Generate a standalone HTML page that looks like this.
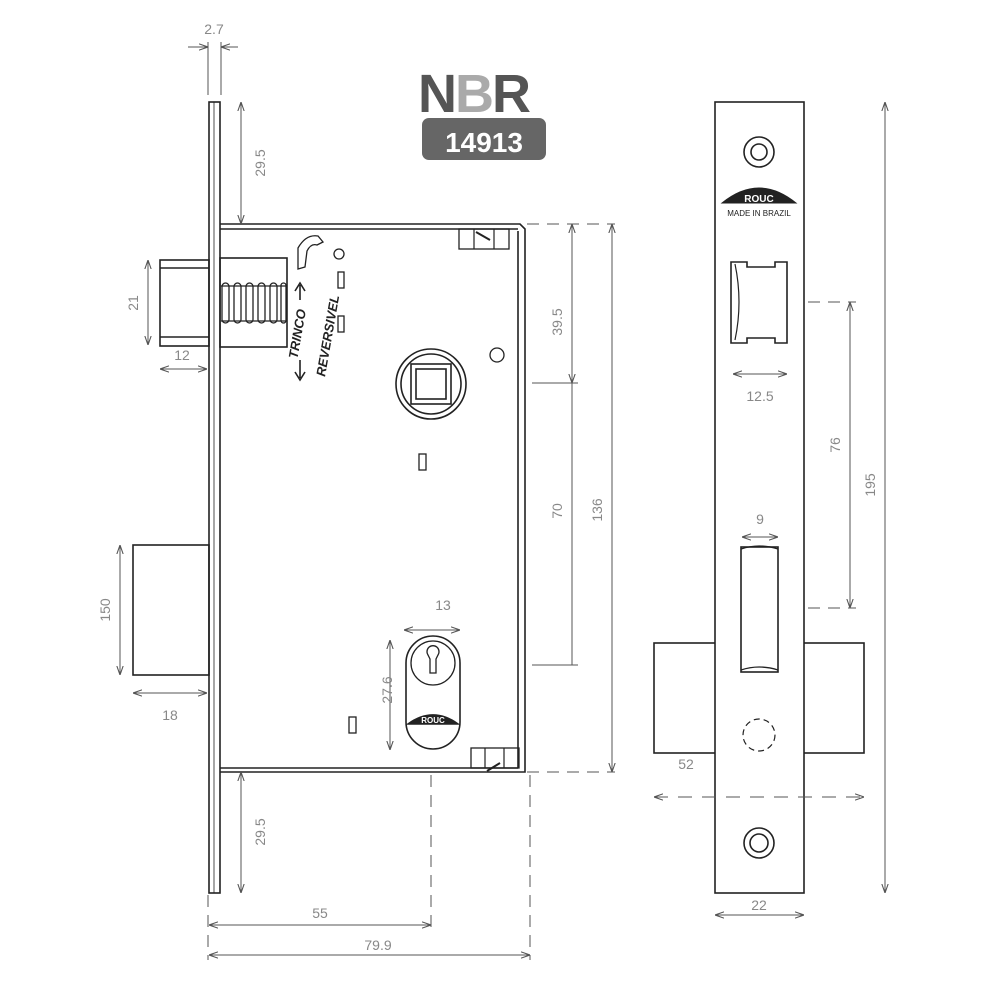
<!DOCTYPE html>
<html><head><meta charset="utf-8"><style>
html,body{margin:0;padding:0;background:#fff}
svg{display:block}
.t{font-family:"Liberation Sans",sans-serif;fill:#888;font-size:14px}
</style></head><body>
<svg width="1000" height="1000" viewBox="0 0 1000 1000" xmlns="http://www.w3.org/2000/svg">
<defs>
<marker id="a" viewBox="0 0 10 10" refX="10" refY="5" markerWidth="9" markerHeight="9" orient="auto-start-reverse"><path d="M0,1.5 L10,5 L0,8.5" fill="none" stroke="#555" stroke-width="1.2"/></marker>
</defs>
<g fill="none" stroke="#222" stroke-width="1.6">
<rect x="209" y="102" width="11" height="791"/>
<line x1="214" y1="102" x2="214" y2="893" stroke-width="0.8"/>
<path d="M220 224 H520 L525 229 V772 H220"/>
<line x1="220" y1="229" x2="518" y2="229"/>
<line x1="220" y1="768" x2="518" y2="768"/>
<line x1="518" y1="231" x2="518" y2="768"/>
<rect x="160" y="260" width="49" height="86"/>
<line x1="160" y1="268" x2="209" y2="268"/>
<line x1="160" y1="337" x2="209" y2="337"/>
<rect x="220" y="258" width="67" height="89"/>
<path d="M221 286 h66 M221 321 h66" stroke-width="1.2"/>
<g stroke-width="1.3">
<rect x="222" y="283" width="7" height="40" rx="3.5"/>
<rect x="234" y="283" width="7" height="40" rx="3.5"/>
<rect x="246" y="283" width="7" height="40" rx="3.5"/>
<rect x="258" y="283" width="7" height="40" rx="3.5"/>
<rect x="270" y="283" width="7" height="40" rx="3.5"/>
<rect x="281" y="283" width="5" height="40" rx="2.5"/>
</g>
<path d="M298 248 q8-14 20-12 l5 6 -6 3 q-6-2 -10 6 l-2 16 -7 2 z" stroke-width="1.3"/>
<circle cx="339" cy="254" r="5" stroke-width="1.3"/>
<rect x="338" y="272" width="6" height="16" stroke-width="1.3"/>
<rect x="338" y="316" width="6" height="16" stroke-width="1.3"/>
<circle cx="497" cy="355" r="7" stroke-width="1.3"/>
<circle cx="431" cy="384" r="35"/>
<circle cx="431" cy="384" r="30"/>
<rect x="411" y="364" width="40" height="40"/>
<rect x="416" y="369" width="30" height="30"/>
<rect x="419" y="454" width="7" height="16" stroke-width="1.3"/>
<rect x="349" y="717" width="7" height="16" stroke-width="1.3"/>
<rect x="459" y="229" width="50" height="20" stroke-width="1.3"/>
<line x1="474" y1="229" x2="474" y2="249" stroke-width="1.2"/><line x1="494" y1="229" x2="494" y2="249" stroke-width="1.2"/>
<line x1="476" y1="232" x2="490" y2="240" stroke-width="2"/>
<rect x="471" y="748" width="48" height="20" stroke-width="1.3"/>
<line x1="485" y1="748" x2="485" y2="768" stroke-width="1.2"/><line x1="504" y1="748" x2="504" y2="768" stroke-width="1.2"/>
<line x1="487" y1="771" x2="500" y2="763" stroke-width="2"/>
<path d="M406 663 A27 27 0 0 1 460 663 V722 A27 27 0 0 1 406 722 Z"/>
<circle cx="433" cy="663" r="22" stroke-width="1.3"/>
<path d="M428 655 a6 6 0 1 1 10 0 l-2 4 v14 h-6 v-14 z" stroke-width="1.3"/>
<path d="M408 724 q25 -18 50 0 z" fill="#222"/>
<text x="433" y="723" text-anchor="middle" font-family="Liberation Sans" font-size="8" fill="#fff" stroke="none" font-weight="bold">ROUC</text>
<rect x="133" y="545" width="76" height="130"/>
<rect x="654" y="643" width="210" height="110"/>
<rect x="715" y="102" width="89" height="791" fill="#fff"/>
<circle cx="759" cy="152" r="15"/><circle cx="759" cy="152" r="8"/>
<circle cx="759" cy="843" r="15"/><circle cx="759" cy="843" r="9"/>
<path d="M731 262 h16 v5 h28 v-5 h12 v81 h-12 v-5 h-28 v5 h-16 z"/>
<path d="M735 264 q8 38 0 76" stroke-width="1.2"/>
<rect x="741" y="547" width="37" height="125"/>
<path d="M741 549 q18 -6 37 0 M741 670 q18 -6 37 0" stroke-width="1.3"/>
<circle cx="759" cy="735" r="16" stroke-dasharray="6 4" stroke-width="1.2"/>
<path d="M722 203 q37 -30 74 0 z" fill="#222" stroke-width="1"/>
</g>
<text x="759" y="202" text-anchor="middle" font-family="Liberation Sans" font-size="10" font-weight="bold" fill="#fff">ROUC</text>
<text x="759" y="216" text-anchor="middle" font-family="Liberation Sans" font-size="8" fill="#222">MADE IN BRAZIL</text>
<g fill="none" stroke="#555" stroke-width="1">
<line x1="208" y1="42" x2="208" y2="95"/><line x1="221" y1="42" x2="221" y2="95"/>
<line x1="188" y1="47" x2="208" y2="47" marker-end="url(#a)"/><line x1="238" y1="47" x2="221" y2="47" marker-end="url(#a)"/>
<line x1="241" y1="102" x2="241" y2="224" marker-start="url(#a)" marker-end="url(#a)"/>
<line x1="241" y1="772" x2="241" y2="893" marker-start="url(#a)" marker-end="url(#a)"/>
<line x1="148" y1="260" x2="148" y2="345" marker-start="url(#a)" marker-end="url(#a)"/>
<line x1="160" y1="369" x2="207" y2="369" marker-start="url(#a)" marker-end="url(#a)"/>
<line x1="120" y1="545" x2="120" y2="675" marker-start="url(#a)" marker-end="url(#a)"/>
<line x1="133" y1="693" x2="207" y2="693" marker-start="url(#a)" marker-end="url(#a)"/>
<line x1="404" y1="630" x2="460" y2="630" marker-start="url(#a)" marker-end="url(#a)"/>
<line x1="390" y1="640" x2="390" y2="750" marker-start="url(#a)" marker-end="url(#a)"/>
<line x1="527" y1="224" x2="615" y2="224" stroke-dasharray="12 8"/>
<line x1="527" y1="772" x2="615" y2="772" stroke-dasharray="12 8"/>
<line x1="532" y1="383" x2="578" y2="383"/><line x1="532" y1="665" x2="578" y2="665"/>
<line x1="572" y1="224" x2="572" y2="383" marker-start="url(#a)" marker-end="url(#a)"/>
<line x1="572" y1="383" x2="572" y2="665"/>
<line x1="612" y1="224" x2="612" y2="772" marker-start="url(#a)" marker-end="url(#a)"/>
<line x1="431" y1="775" x2="431" y2="930" stroke-dasharray="12 8"/>
<line x1="530" y1="775" x2="530" y2="960" stroke-dasharray="12 8"/>
<line x1="208" y1="895" x2="208" y2="960" stroke-dasharray="12 8"/>
<line x1="209" y1="925" x2="431" y2="925" marker-start="url(#a)" marker-end="url(#a)"/>
<line x1="209" y1="955" x2="530" y2="955" marker-start="url(#a)" marker-end="url(#a)"/>
<line x1="733" y1="374" x2="787" y2="374" marker-start="url(#a)" marker-end="url(#a)"/>
<line x1="742" y1="537" x2="778" y2="537" marker-start="url(#a)" marker-end="url(#a)"/>
<line x1="808" y1="302" x2="856" y2="302" stroke-dasharray="12 8"/>
<line x1="808" y1="608" x2="856" y2="608" stroke-dasharray="12 8"/>
<line x1="850" y1="302" x2="850" y2="608" marker-start="url(#a)" marker-end="url(#a)"/>
<line x1="885" y1="102" x2="885" y2="893" marker-start="url(#a)" marker-end="url(#a)"/>
<line x1="654" y1="797" x2="864" y2="797" stroke-dasharray="14 10" marker-start="url(#a)" marker-end="url(#a)"/>
<line x1="715" y1="915" x2="804" y2="915" marker-start="url(#a)" marker-end="url(#a)"/>
<path d="M300 300 v-15 M295 291 l5 -8 5 8 M300 360 v18 M295 372 l5 8 5 -8" stroke="#222" stroke-width="1.6"/>
</g>
<text class="t" x="214" y="34" text-anchor="middle" font-size="13">2.7</text>
<text class="t" transform="translate(265,163) rotate(-90)" text-anchor="middle">29.5</text>
<text class="t" transform="translate(265,832) rotate(-90)" text-anchor="middle">29.5</text>
<text class="t" transform="translate(138,303) rotate(-90)" text-anchor="middle">21</text>
<text class="t" x="182" y="360" text-anchor="middle">12</text>
<text class="t" transform="translate(110,610) rotate(-90)" text-anchor="middle">150</text>
<text class="t" x="170" y="720" text-anchor="middle">18</text>
<text class="t" x="443" y="610" text-anchor="middle">13</text>
<text class="t" transform="translate(392,690) rotate(-90)" text-anchor="middle">27.6</text>
<text class="t" transform="translate(562,322) rotate(-90)" text-anchor="middle">39.5</text>
<text class="t" transform="translate(562,511) rotate(-90)" text-anchor="middle">70</text>
<text class="t" transform="translate(602,510) rotate(-90)" text-anchor="middle">136</text>
<text class="t" x="320" y="918" text-anchor="middle">55</text>
<text class="t" x="378" y="950" text-anchor="middle">79.9</text>
<text class="t" x="760" y="401" text-anchor="middle">12.5</text>
<text class="t" x="760" y="524" text-anchor="middle">9</text>
<text class="t" transform="translate(840,445) rotate(-90)" text-anchor="middle">76</text>
<text class="t" transform="translate(875,485) rotate(-90)" text-anchor="middle">195</text>
<text class="t" x="686" y="769" text-anchor="middle">52</text>
<text class="t" x="759" y="910" text-anchor="middle">22</text>
<text transform="translate(306,310) rotate(-80)" text-anchor="end" font-family="Liberation Sans" font-style="italic" font-weight="bold" font-size="13" fill="#222">TRINCO</text>
<text transform="translate(325,377) rotate(-80)" text-anchor="start" font-family="Liberation Sans" font-style="italic" font-weight="bold" font-size="13" fill="#222">REVERSIVEL</text>
<text x="418" y="112" font-family="Liberation Sans" font-size="54" font-weight="bold" fill="#555" letter-spacing="-2">N<tspan fill="#aaa">B</tspan>R</text>
<rect x="422" y="118" width="124" height="42" rx="7" fill="#666"/>
<text x="484" y="152" text-anchor="middle" font-family="Liberation Sans" font-size="28" font-weight="bold" fill="#fff">14913</text>
</svg>
</body></html>
